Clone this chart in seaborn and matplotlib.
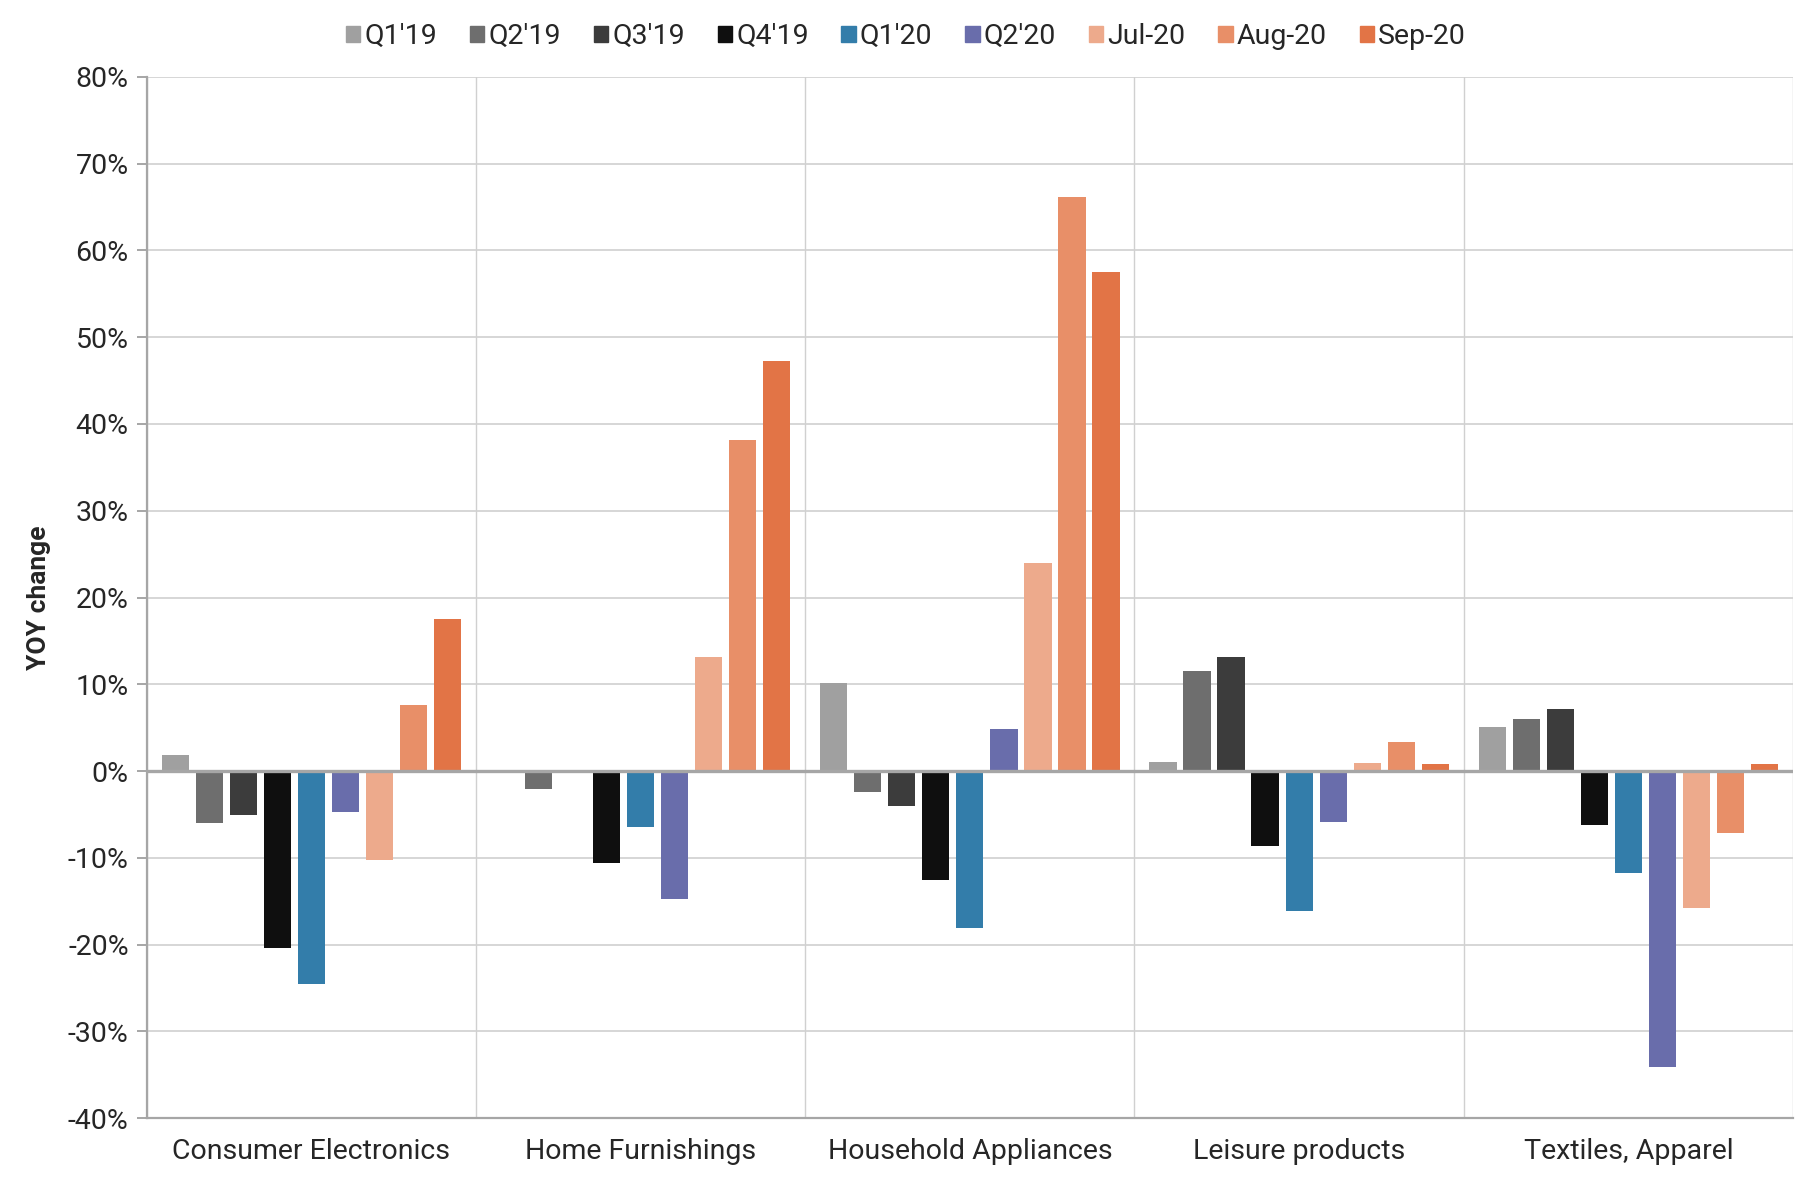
import matplotlib
matplotlib.use("Agg")
import matplotlib.pyplot as plt
from matplotlib.ticker import FuncFormatter, MultipleLocator
import numpy as np
import pandas as pd
import seaborn as sns

categories = ["Consumer Electronics", "Home Furnishings", "Household Appliances",
              "Leisure products", "Textiles, Apparel"]
periods = ["Q1'19", "Q2'19", "Q3'19", "Q4'19", "Q1'20", "Q2'20",
           "Jul-20", "Aug-20", "Sep-20"]
colors = ["#A0A0A0", "#6E6E6E", "#3C3C3C", "#0F0F0F", "#337DAA",
          "#696DAB", "#EDAA8C", "#E88F68", "#E27446"]

# YoY change (%) per period, one list per category
consumer_electronics = [1.9, -6.0, -5.1, -20.4, -24.5, -4.7, -10.2, 7.6, 17.5]
home_furnishings = [0.0, -2.1, 0.0, -10.6, -6.5, -14.7, 13.2, 38.2, 47.2]
household_appliances = [10.1, -2.4, -4.0, -12.5, -18.1, 4.8, 24.0, 66.1, 57.5]
leisure_products = [1.1, 11.5, 13.1, -8.6, -16.1, -5.9, 0.9, 3.3, 0.8]
textiles_apparel = [5.1, 6.0, 7.1, -6.2, -11.7, -34.1, -15.8, -7.1, 0.8]

values = [consumer_electronics, home_furnishings, household_appliances,
          leisure_products, textiles_apparel]

rows = []
for cat, vals in zip(categories, values):
    for per, v in zip(periods, vals):
        rows.append({"category": cat, "period": per, "value": v})
df = pd.DataFrame(rows)

sns.set_theme(style="white")
plt.rcParams["font.family"] = ["Roboto", "DejaVu Sans"]

fig, ax = plt.subplots(figsize=(18.12, 11.82), dpi=100)
fig.subplots_adjust(left=0.081, right=0.9895, top=0.935, bottom=0.054)

sns.barplot(data=df, x="category", y="value", hue="period",
            order=categories, hue_order=periods,
            palette=dict(zip(periods, colors)),
            width=0.93, gap=0.2, saturation=1, linewidth=0,
            ax=ax)

ax.set_ylim(-40, 80)
ax.set_xlim(-0.5, len(categories) - 0.5)
ax.yaxis.set_major_locator(MultipleLocator(10))
ax.yaxis.set_major_formatter(FuncFormatter(lambda v, _: f"{v:.0f}%"))

grid_col = "#D0D0D0"
ax.set_xticks(np.arange(-0.5, len(categories), 1.0), minor=True)
ax.grid(axis="y", which="major", color=grid_col, linewidth=1.2)
ax.grid(axis="x", which="minor", color=grid_col, linewidth=1.0)
ax.set_axisbelow(True)
ax.axhline(0, color="#A6A6A6", linewidth=2.4, zorder=3)

for side in ["top", "right"]:
    ax.spines[side].set_visible(False)
for side in ["left", "bottom"]:
    ax.spines[side].set_color("#A6A6A6")
    ax.spines[side].set_linewidth(1.6)

ax.tick_params(axis="y", which="major", length=7, width=1.4,
               color="#A6A6A6", labelsize=20.5, pad=6, left=True)
ax.tick_params(axis="x", which="both", length=0, labelsize=20.5, pad=14)
ax.set_xlabel("")
ax.set_ylabel("YOY change", fontsize=19, fontweight="bold", labelpad=12)

ax.legend_.remove()
handles = [plt.Rectangle((0, 0), 1, 1, color=c) for c in colors]
fig.legend(handles, periods, loc="upper center", bbox_to_anchor=(0.5, 1.002),
           ncol=len(periods), frameon=False, fontsize=20.5,
           handlelength=0.5, handleheight=0.5, handletextpad=0.15,
           columnspacing=1.15)

fig.savefig("out.png", dpi=100)
